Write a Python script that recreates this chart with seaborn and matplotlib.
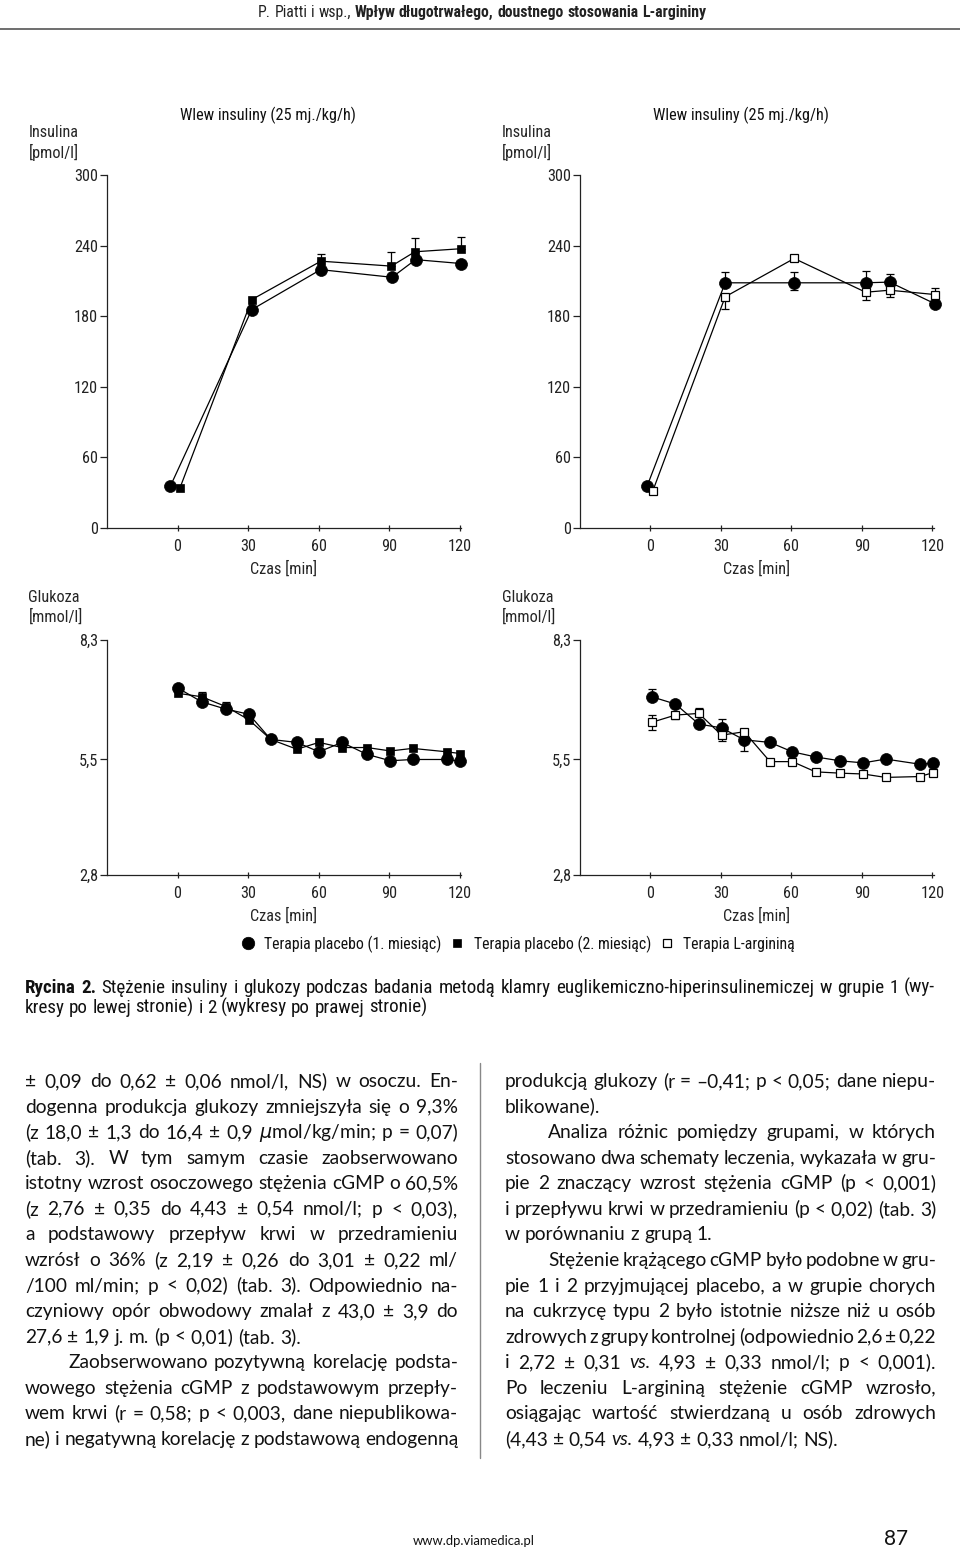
import matplotlib
matplotlib.use('Agg')
import numpy as np
import matplotlib.pyplot as plt
import matplotlib.transforms as mtransforms
from matplotlib.lines import Line2D
import seaborn as sns

W, H = 960, 1551

# ---- values ----
time_ticks = [0, 30, 60, 90, 120]
ins_ticks = [0, 60, 120, 180, 240, 300]
glu_ticks = [2.8, 5.5, 8.3]
glu_tick_labels = ['2,8', '5,5', '8,3']

# insulin [pmol/l], group 1 (left)
ins1_t_circle = [-3, 31.6, 60.9, 91.3, 101.3, 120.7]
ins1_circle = [35.5, 185.5, 219.5, 213.0, 228.0, 224.7]
ins1_t_square = [1, 31.6, 61.0, 91.0, 101.0, 120.7]
ins1_square = [33.6, 194.0, 226.7, 222.5, 234.7, 237.3]
ins1_square_up = [0, 0, 6.3, 12.2, 11.9, 10.2]

# insulin [pmol/l], group 2 (right)
ins2_t_circle = [-1.4, 31.8, 61.2, 91.6, 101.8, 121.2]
ins2_circle = [35.5, 208.3, 208.3, 208.3, 208.9, 190.4]
ins2_circle_up = [0, 9.1, 9.1, 9.7, 6.5, 0]
ins2_circle_down = [0, 0, 6.3, 0, 0, 0]
ins2_t_open = [1.0, 31.8, 61.2, 91.6, 101.8, 121.2]
ins2_open = [31.3, 196.4, 229.0, 200.3, 202.0, 198.3]
ins2_open_up = [0, 0, 0, 0, 0, 5.2]
ins2_open_down = [0, 10.0, 0, 6.8, 5.6, 0]

# glucose [mmol/l], group 1 (left)
glu1_t = [0.3, 10.3, 20.6, 30.4, 39.7, 50.8, 60.2, 70.0, 80.6, 90.6, 100.0, 114.5, 120.2]
glu1_circle = [7.17, 6.85, 6.68, 6.56, 5.97, 5.90, 5.68, 5.90, 5.62, 5.47, 5.50, 5.50, 5.46]
glu1_square = [7.05, 6.97, 6.74, 6.43, 5.97, 5.74, 5.90, 5.78, 5.78, 5.70, 5.76, 5.68, 5.64]
glu1_square_up = [0, 0.10, 0.10, 0, 0, 0, 0, 0, 0, 0, 0, 0, 0]

# glucose [mmol/l], group 2 (right)
glu2_t = [0.5, 10.6, 20.6, 30.3, 39.9, 50.9, 60.4, 70.3, 80.6, 90.6, 100.1, 114.6, 120.3]
glu2_circle = [6.97, 6.80, 6.33, 6.24, 5.96, 5.90, 5.68, 5.56, 5.47, 5.42, 5.51, 5.39, 5.41]
glu2_circle_up = [0.18, 0, 0, 0.21, 0, 0, 0, 0, 0, 0, 0, 0, 0]
glu2_circle_down = [0, 0, 0, 0, 0.26, 0, 0, 0, 0, 0, 0, 0, 0]
glu2_open = [6.37, 6.54, 6.58, 6.07, 6.15, 5.45, 5.45, 5.21, 5.18, 5.16, 5.08, 5.10, 5.19]
glu2_open_up = [0.18, 0.08, 0.13, 0, 0, 0, 0, 0, 0, 0, 0, 0, 0]
glu2_open_down = [0.17, 0.09, 0, 0.14, 0, 0, 0, 0, 0, 0, 0, 0, 0]

legend_labels = ['Terapia placebo (1. miesiąc)', 'Terapia placebo (2. miesiąc)', 'Terapia L-argininą']

header_plain = 'P. Piatti i wsp.,'
header_bold = 'Wpływ długotrwałego, doustnego stosowania L-argininy'
caption_lines = [
    '**Rycina **2. Stężenie insuliny i glukozy podczas badania metodą klamry euglikemiczno-hiperinsulinemiczej w grupie 1 (wy-',
    'kresy po lewej stronie) i 2 (wykresy po prawej stronie)',
]
left_col = [
    '± 0,09 do 0,62 ± 0,06 nmol/l, NS) w osoczu. En-',
    'dogenna produkcja glukozy zmniejszyła się o 9,3%',
    '(z 18,0 ± 1,3 do 16,4 ± 0,9 $\\mu$mol/kg/min; p = 0,07)',
    '(tab. 3). W tym samym czasie zaobserwowano',
    'istotny wzrost osoczowego stężenia cGMP o 60,5%',
    '(z 2,76 ± 0,35 do 4,43 ± 0,54 nmol/l; p < 0,03),',
    'a podstawowy przepływ krwi w przedramieniu',
    'wzrósł o 36% (z 2,19 ± 0,26 do 3,01 ± 0,22 ml/',
    '/100 ml/min; p < 0,02) (tab. 3). Odpowiednio na-',
    'czyniowy opór obwodowy zmalał z 43,0 ± 3,9 do',
    '27,6 ± 1,9 j. m. (p < 0,01) (tab. 3).',
    'Zaobserwowano pozytywną korelację podsta-',
    'wowego stężenia cGMP z podstawowym przepły-',
    'wem krwi (r = 0,58; p < 0,003, dane niepublikowa-',
    'ne) i negatywną korelację z podstawową endogenną',
]
left_ragged, left_indent = {10}, {11}
right_col = [
    'produkcją glukozy (r = –0,41; p < 0,05; dane niepu-',
    'blikowane).',
    'Analiza różnic pomiędzy grupami, w których',
    'stosowano dwa schematy leczenia, wykazała w gru-',
    'pie 2  znaczący wzrost stężenia cGMP (p < 0,001)',
    'i przepływu krwi w przedramieniu (p < 0,02) (tab. 3)',
    'w porównaniu z grupą 1.',
    'Stężenie krążącego cGMP było podobne w gru-',
    'pie 1 i 2 przyjmującej placebo, a w grupie chorych',
    'na cukrzycę typu 2 było istotnie niższe niż u osób',
    'zdrowych z grupy kontrolnej (odpowiednio 2,6 ± 0,22',
    'i 2,72 ± 0,31 *vs. 4,93 ± 0,33 nmol/l; p < 0,001).',
    'Po leczeniu L-argininą stężenie cGMP wzrosło,',
    'osiągając wartość stwierdzaną u osób zdrowych',
    '(4,43 ± 0,54 *vs. 4,93 ± 0,33 nmol/l; NS).',
]
right_ragged, right_indent = {1, 6, 14}, {2, 7}

# ---- style ----
sns.set_style('ticks')
NARROW = ['Roboto Condensed', 'Liberation Sans Narrow', 'Liberation Sans', 'DejaVu Sans']
BODY = ['Lato', 'Open Sans', 'DejaVu Sans']
plt.rcParams['font.family'] = NARROW
plt.rcParams['text.color'] = '#111111'
plt.rcParams['axes.edgecolor'] = '#222222'
plt.rcParams['xtick.color'] = '#222222'
plt.rcParams['ytick.color'] = '#222222'
FS = 11.7

STY = {
    'circle': dict(marker='o', markersize=8.6, markerfacecolor='k', markeredgecolor='k', markeredgewidth=0.5),
    'square': dict(marker='s', markersize=5.8, markerfacecolor='k', markeredgecolor='k', markeredgewidth=0.5),
    'open': dict(marker='s', markersize=5.8, markerfacecolor='white', markeredgecolor='k', markeredgewidth=0.9),
}

fig = plt.figure(figsize=(W / 100, H / 100), dpi=100)
r = fig.canvas.get_renderer()


def fy(y):
    return 1 - y / H


def px_axes(left, top, right, bottom):
    return fig.add_axes([left / W, 1 - bottom / H, (right - left) / W, (bottom - top) / H])


def draw_panel(ax, series, yticks, ylabels, ylim, ylabel, label_y, title=None):
    for t, v, up, down, kind, z in series:
        t, v, up, down = map(np.asarray, (t, v, up, down))
        sns.lineplot(x=t, y=v, ax=ax, color='k', linewidth=0.9, clip_on=False, zorder=z, **STY[kind])
        m = (up > 0) | (down > 0)
        if m.any():
            ax.errorbar(t[m], v[m], yerr=[down[m], up[m]], fmt='none', ecolor='k', elinewidth=0.9,
                        capsize=3, capthick=0.9, clip_on=False, zorder=z - 0.5)
    ax.set_xlim(-30, 120.5)
    ax.set_ylim(*ylim)
    ax.set_xticks(time_ticks)
    ax.set_yticks(yticks)
    ax.set_yticklabels(ylabels)
    sns.despine(ax=ax)
    for s in ax.spines.values():
        s.set_linewidth(0.9)
    ax.tick_params(axis='y', direction='out', length=5, width=0.9, pad=1.5, labelsize=FS)
    ax.tick_params(axis='x', direction='inout', length=5, width=0.9, pad=5.5, labelsize=FS)
    ax.set_xlabel('Czas [min]', fontsize=FS, labelpad=5)
    ax.set_ylabel(ylabel, rotation=0, ha='left', va='bottom', fontsize=FS, linespacing=1.25)
    ax.yaxis.set_label_coords(-0.222, label_y)
    if title:
        tr = mtransforms.blended_transform_factory(ax.transData, ax.transAxes)
        ax.text(1, 1.17, title, transform=tr, ha='left', va='center', fontsize=FS)


ax1 = px_axes(107, 175, 460.7, 527.7)
draw_panel(ax1, [
    (ins1_t_square, ins1_square, ins1_square_up, [0] * 6, 'square', 2),
    (ins1_t_circle, ins1_circle, [0] * 6, [0] * 6, 'circle', 3),
], ins_ticks, [str(v) for v in ins_ticks], (0, 300), 'Insulina\n[pmol/l]', 1.04, 'Wlew insuliny (25 mj./kg/h)')

ax2 = px_axes(580, 175, 933.5, 527.7)
draw_panel(ax2, [
    (ins2_t_circle, ins2_circle, ins2_circle_up, ins2_circle_down, 'circle', 2),
    (ins2_t_open, ins2_open, ins2_open_up, ins2_open_down, 'open', 3),
], ins_ticks, [str(v) for v in ins_ticks], (0, 300), 'Insulina\n[pmol/l]', 1.04, 'Wlew insuliny (25 mj./kg/h)')

ax3 = px_axes(107, 640, 460.7, 874.7)
draw_panel(ax3, [
    (glu1_t, glu1_square, glu1_square_up, [0] * 13, 'square', 2),
    (glu1_t, glu1_circle, [0] * 13, [0] * 13, 'circle', 3),
], glu_ticks, glu_tick_labels, (2.8, 8.3), 'Glukoza\n[mmol/l]', 1.064)

ax4 = px_axes(580, 640, 933.5, 874.7)
draw_panel(ax4, [
    (glu2_t, glu2_circle, glu2_circle_up, glu2_circle_down, 'circle', 2),
    (glu2_t, glu2_open, glu2_open_up, glu2_open_down, 'open', 3),
], glu_ticks, glu_tick_labels, (2.8, 8.3), 'Glukoza\n[mmol/l]', 1.064)

# legend below the plots
handles = [Line2D([], [], ls='none', **STY[k]) for k in ('circle', 'square', 'open')]
handles[0].set_markersize(9)
fig.legend(handles, legend_labels, ncol=3, loc='center', bbox_to_anchor=(518 / W, fy(944)),
           frameon=False, fontsize=11.3, handlelength=0.9, handletextpad=0.6, columnspacing=0.55,
           borderpad=0, borderaxespad=0)


# ---- page text ----
def measure(s, size, family, **kw):
    t = fig.text(0, 0, s, fontsize=size, family=family, **kw)
    w = t.get_window_extent(r).width
    t.remove()
    return w


def put_words(text, x0, x1, y, size, family, justify, color='#111111'):
    items = []
    for w in text.split():
        kw = dict(weight='normal', style='normal')
        if w.startswith('**'):
            w, kw['weight'] = w[2:], 'bold'
        elif w.startswith('*'):
            w, kw['style'] = w[1:], 'italic'
        items.append((w, kw, measure(w, size, family, **kw)))
    space = measure('a a', size, family) - measure('aa', size, family)
    total = sum(i[2] for i in items)
    gap = space
    if justify and len(items) > 1:
        gap = max((x1 - x0 - total) / (len(items) - 1), 0.3 * space)
    x = x0
    for w, kw, wd in items:
        fig.text(x / W, fy(y), w, fontsize=size, family=family, color=color,
                 va='baseline', ha='left', **kw)
        x += wd + gap
    return x - gap


# header
hs = 9.0
hw = measure(header_plain, hs, NARROW) + measure(header_bold, hs, NARROW, weight='bold')
hs = hs * 445 / hw
put_words(header_plain + ' **' + header_bold.replace(' ', ' **'), 258, 707, 17, hs, NARROW, False, '#222222')
fig.add_artist(Line2D([0, 1], [fy(29)] * 2, color='#555555', lw=1.2))

# caption
cs = 10 * 400 / measure(caption_lines[1], 10, NARROW)
put_words(caption_lines[0], 25, 935, 993, cs, NARROW, True)
put_words(caption_lines[1], 25, 935, 1013, cs, NARROW, False)

# body columns
bs = 10 * 207 / measure(right_col[6], 10, BODY)
for col, ragged, indent, x0, x1 in ((left_col, left_ragged, left_indent, 25, 458),
                                     (right_col, right_ragged, right_indent, 505, 936)):
    for i, line in enumerate(col):
        xs = x0 + (43 if i in indent else 0)
        put_words(line, xs, x1, 1087 + i * 25.57, bs, BODY, i not in ragged)
fig.add_artist(Line2D([480 / W] * 2, [fy(1063), fy(1458)], color='#888888', lw=1))

# footer
fs_ = 10 * 122 / measure('www.dp.viamedica.pl', 10, BODY)
fig.text(413 / W, fy(1545), 'www.dp.viamedica.pl', fontsize=fs_, family=BODY, va='baseline', ha='left')
fig.text(908 / W, fy(1545), '87', fontsize=15, family=BODY, va='baseline', ha='right')

fig.savefig('out.png', dpi=100)
